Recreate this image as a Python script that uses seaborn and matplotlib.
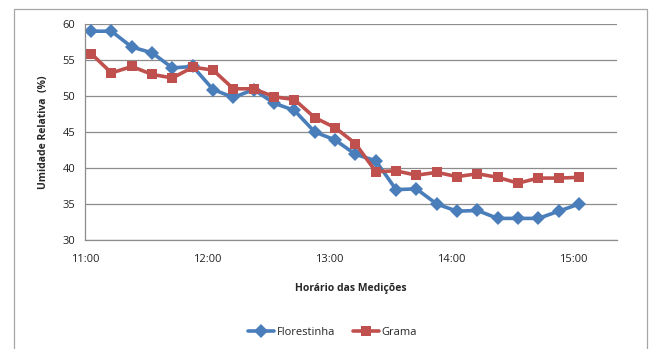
import numpy as np
import pandas as pd
import matplotlib
matplotlib.use("Agg")
import matplotlib.pyplot as plt
import matplotlib.dates as mdates
from matplotlib.patches import Rectangle
import seaborn as sns

# ---- data ----
times = ["11:03", "11:13", "11:23", "11:33", "11:43", "11:53", "12:03", "12:13",
         "12:23", "12:33", "12:43", "12:53", "13:03", "13:13", "13:23", "13:33",
         "13:43", "13:53", "14:03", "14:13", "14:23", "14:33", "14:43", "14:53",
         "15:03"]
florestinha = [59.0, 59.0, 56.8, 56.0, 53.9, 54.1, 50.9, 49.8, 50.9, 49.0, 48.0,
               45.0, 43.9, 41.9, 41.0, 37.0, 37.1, 35.0, 34.0, 34.1, 33.0, 33.0,
               33.0, 34.0, 35.0]
grama = [55.9, 53.2, 54.1, 53.0, 52.5, 54.0, 53.6, 51.0, 51.0, 49.9, 49.5,
         47.0, 45.6, 43.4, 39.5, 39.6, 39.0, 39.4, 38.8, 39.2, 38.7, 37.9,
         38.6, 38.6, 38.7]
series_names = ["Florestinha", "Grama"]
colors = ["#4A7EBB", "#C0504D"]
markers = ["D", "s"]

t = pd.to_datetime(["2000-01-01 " + s for s in times])
df = pd.concat([
    pd.DataFrame({"Hora": t, "UR": florestinha, "Local": series_names[0]}),
    pd.DataFrame({"Hora": t, "UR": grama, "Local": series_names[1]}),
])

sns.set_style("white")
plt.rcParams["font.family"] = ["Open Sans", "DejaVu Sans"]

fig = plt.figure(figsize=(6.5, 3.49), dpi=100)
ax = fig.add_axes([85 / 650, 1 - 240 / 349, (617 - 85) / 650, 216 / 349])

sns.lineplot(data=df, x="Hora", y="UR", hue="Local", style="Local",
             palette=colors, markers=markers, dashes=False, linewidth=2.6,
             markersize=7, markeredgewidth=0, ax=ax)

ax.set_ylim(30, 60)
ax.set_yticks(np.arange(30, 61, 5))
ax.set_xlim(pd.Timestamp("2000-01-01 11:00"), pd.Timestamp("2000-01-01 15:21:40"))
ax.xaxis.set_major_locator(mdates.HourLocator())
ax.xaxis.set_major_formatter(mdates.DateFormatter("%H:%M"))

ax.grid(axis="y", color="#8c8c8c", linewidth=0.9)
ax.set_axisbelow(True)
for side in ["top", "right"]:
    ax.spines[side].set_visible(False)
for side in ["left", "bottom"]:
    ax.spines[side].set_color("#8c8c8c")
    ax.spines[side].set_linewidth(0.9)
ax.tick_params(axis="both", length=4, width=0.9, color="#8c8c8c",
               labelsize=8, labelcolor="#222222", direction="out")
ax.tick_params(axis="x", pad=6)
ax.tick_params(axis="y", pad=3)

ax.set_xlabel("Horário das Medições", fontsize=7.5, fontweight="bold", labelpad=13)
ax.set_ylabel("Umidade Relativa  (%)", fontsize=7.5, fontweight="bold", labelpad=10)

leg = ax.legend(loc="upper center", bbox_to_anchor=(0.465, -0.355), ncol=2,
                frameon=False, fontsize=8, handlelength=2.4,
                columnspacing=1.6, handletextpad=0.2)
for line in leg.get_lines():
    line.set_linewidth(2.6)

# outer chart border (cut at the bottom like the reference)
fig.add_artist(Rectangle((14 / 650, -0.05), (647 - 14) / 650, 1 - 9 / 349 + 0.05,
                         transform=fig.transFigure, fill=False,
                         edgecolor="#a6a6a6", linewidth=0.9))

fig.savefig("out.png", dpi=100)
